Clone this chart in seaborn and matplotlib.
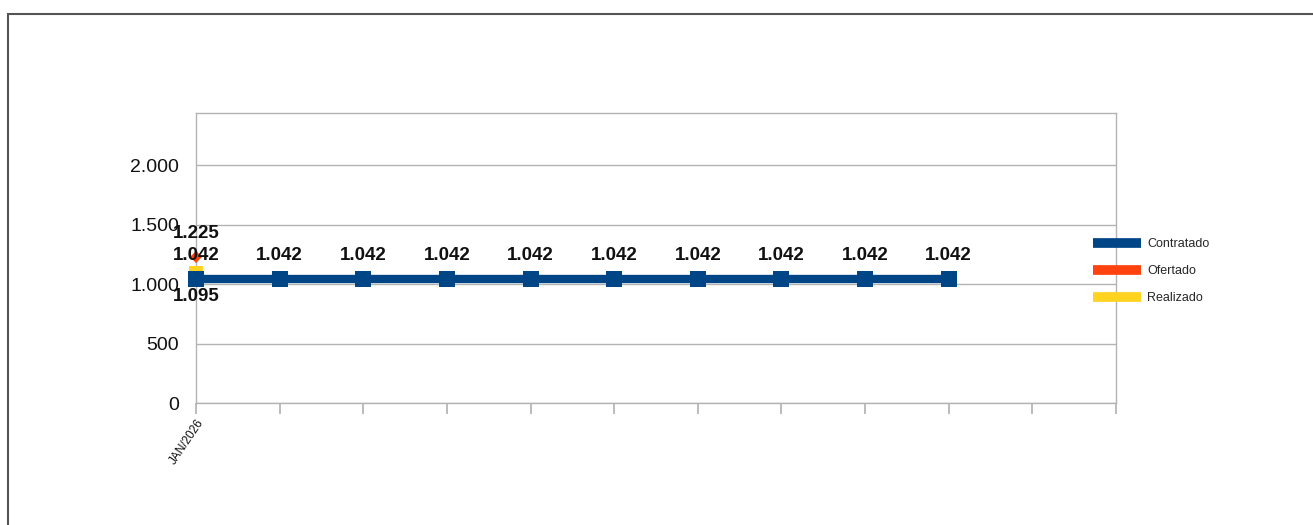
import matplotlib
matplotlib.use("Agg")
import matplotlib.pyplot as plt
import seaborn as sns
import pandas as pd
import numpy as np
from matplotlib.lines import Line2D
from matplotlib.patches import Rectangle

sns.set_theme(style="white")
plt.rcParams['font.family'] = ['Liberation Sans', 'DejaVu Sans']

categories = ["JAN/2026", "", "", "", "", "", "", "", "", "", "", ""]
contratado = [1042, 1042, 1042, 1042, 1042, 1042, 1042, 1042, 1042, 1042]
ofertado = [1225]
realizado = [1095]
series_names = ["Contratado", "Ofertado", "Realizado"]
colors = {"Contratado": "#004586", "Ofertado": "#ff420e", "Realizado": "#ffd320"}

fig = plt.figure(figsize=(13.13, 5.25), dpi=100)
fig.patches.append(Rectangle((8/1313, -0.1), 1.2, 1 - 14/525 + 0.1, transform=fig.transFigure,
                             fill=False, edgecolor="#555555", linewidth=1.5))
ax = fig.add_axes([196/1313, 1 - 403/525, (1116 - 196)/1313, (403 - 113)/525])

df_c = pd.DataFrame({"x": np.arange(len(contratado)), "y": contratado})
df_o = pd.DataFrame({"x": np.arange(len(ofertado)), "y": ofertado})
df_r = pd.DataFrame({"x": np.arange(len(realizado)), "y": realizado})

sns.lineplot(data=df_r, x="x", y="y", ax=ax, color=colors["Realizado"], marker="s",
             markersize=10, markeredgewidth=0, linewidth=6, zorder=3, clip_on=False)
sns.lineplot(data=df_c, x="x", y="y", ax=ax, color=colors["Contratado"], marker="s",
             markersize=11, markeredgewidth=0, linewidth=6, zorder=4, clip_on=False)
sns.lineplot(data=df_o, x="x", y="y", ax=ax, color=colors["Ofertado"], marker="D",
             markersize=6, markeredgewidth=0, linewidth=6, zorder=5, clip_on=False)

def fmt(v):
    return f"{v:,.0f}".replace(",", ".")

lbl = dict(ha="center", va="center", fontsize=13.5, fontweight="bold", color="#111111",
           zorder=6, textcoords="offset points")
for i, v in enumerate(contratado):
    ax.annotate(fmt(v), (i, v), xytext=(0, 17), **lbl)
for i, v in enumerate(ofertado):
    ax.annotate(fmt(v), (i, v), xytext=(0, 17), **lbl)
for i, v in enumerate(realizado):
    ax.annotate(fmt(v), (i, v), xytext=(0, -17), **lbl)

ax.set_xlim(0, len(categories) - 1)
ax.set_ylim(0, 2437)
ax.set_yticks([0, 500, 1000, 1500, 2000])
ax.set_yticklabels([fmt(v) for v in [0, 500, 1000, 1500, 2000]], fontsize=14)
ax.set_xticks(np.arange(len(categories)))
ax.set_xticklabels(categories, rotation=56, ha="right", rotation_mode="anchor", fontsize=8.5)
ax.set_xlabel("")
ax.set_ylabel("")
ax.grid(axis="y", color="#b3b3b3", linewidth=1)
ax.set_axisbelow(True)
for s in ax.spines.values():
    s.set_color("#b3b3b3")
    s.set_linewidth(1)
ax.tick_params(axis="y", length=6, color="#b3b3b3", pad=6, labelcolor="#111111")
ax.tick_params(axis="x", length=8, color="#b3b3b3", pad=2, labelcolor="#111111", bottom=True)

handles = [Line2D([0], [0], color=colors[n], linewidth=7, solid_capstyle="butt") for n in series_names]
fig.legend(handles, series_names, loc="center left", bbox_to_anchor=(1082/1313, 1 - 271/525),
           frameon=False, fontsize=9, handlelength=3.8, labelspacing=1.2, handletextpad=0.5)

fig.savefig("out.png", dpi=100)
